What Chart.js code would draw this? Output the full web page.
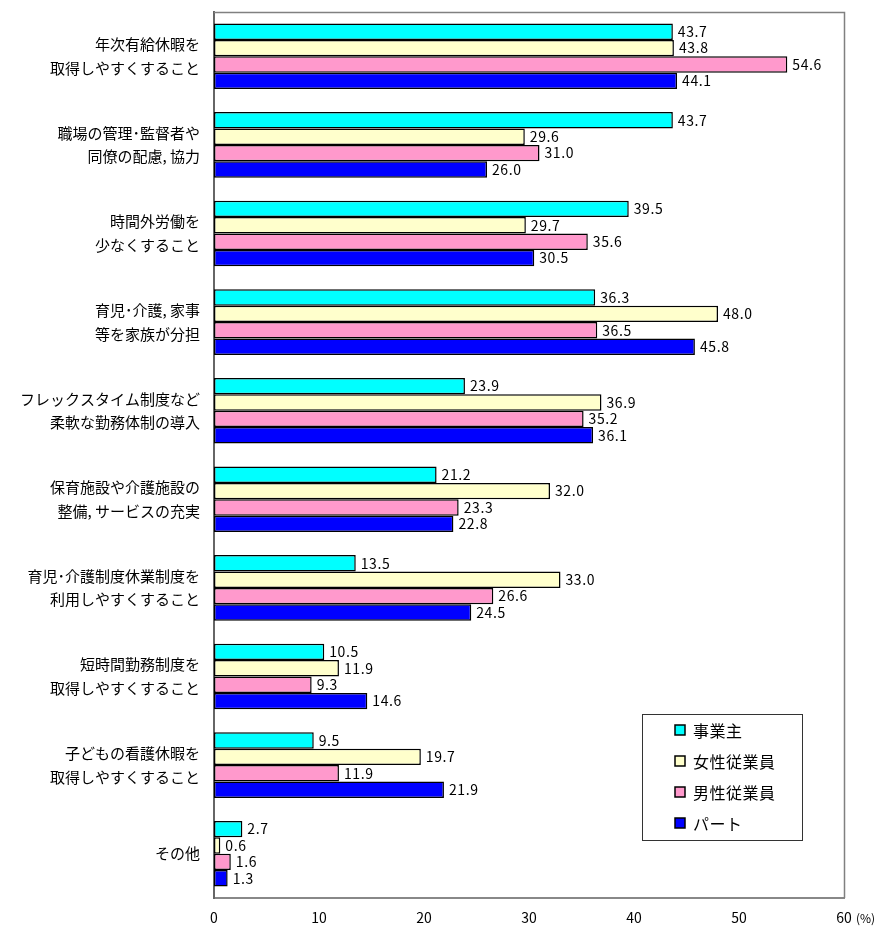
<!DOCTYPE html>
<html lang="ja">
<head>
<meta charset="utf-8">
<script src="https://cdn.jsdelivr.net/npm/chart.js@4/dist/chart.umd.min.js"></script>
<style>
  body { margin: 0; background: #fff; }
  #wrap { width: 877px; height: 934px; position: relative; }
</style>
</head>
<body>
<div id="wrap"><canvas id="chart"></canvas></div>
<script>
// Items (two-line labels) and answer ratios in %
const categories = [
    ['年次有給休暇を', '取得しやすくすること'],
    ['職場の管理･監督者や', '同僚の配慮, 協力'],
    ['時間外労働を', '少なくすること'],
    ['育児･介護, 家事', '等を家族が分担'],
    ['フレックスタイム制度など', '柔軟な勤務体制の導入'],
    ['保育施設や介護施設の', '整備, サービスの充実'],
    ['育児･介護制度休業制度を', '利用しやすくすること'],
    ['短時間勤務制度を', '取得しやすくすること'],
    ['子どもの看護休暇を', '取得しやすくすること'],
    'その他'
];
const seriesNames = ['事業主', '女性従業員', '男性従業員', 'パート'];
const employers = [43.7, 43.7, 39.5, 36.3, 23.9, 21.2, 13.5, 10.5, 9.5, 2.7];
const femaleStaff = [43.8, 29.6, 29.7, 48.0, 36.9, 32.0, 33.0, 11.9, 19.7, 0.6];
const maleStaff = [54.6, 31.0, 35.6, 36.5, 35.2, 23.3, 26.6, 9.3, 11.9, 1.6];
const partTimers = [44.1, 26.0, 30.5, 45.8, 36.1, 22.8, 24.5, 14.6, 21.9, 1.3];
const xTicks = [0, 10, 20, 30, 40, 50, 60];

const colors = ['#00ffff', '#ffffcc', '#ff99cc', '#0000ff'];
const FONT = "'Noto Sans CJK JP', 'Noto Sans', sans-serif";

// value text right of each bar
const valueLabels = {
    id: 'valueLabels',
    afterDatasetsDraw(chart) {
        const ctx = chart.ctx;
        ctx.save();
        ctx.font = '14px ' + FONT;
        ctx.letterSpacing = '0.6px';
        ctx.fillStyle = '#000';
        ctx.textAlign = 'left';
        ctx.textBaseline = 'middle';
        chart.data.datasets.forEach((ds, i) => {
            chart.getDatasetMeta(i).data.forEach((bar, j) => {
                ctx.fillText(ds.data[j].toFixed(1), bar.x + 5, bar.y);
            });
        });
        ctx.restore();
    }
};

// top/right frame, unit mark and boxed legend inside the plot
const frameAndLegend = {
    id: 'frameAndLegend',
    afterDraw(chart) {
        const ctx = chart.ctx;
        const a = chart.chartArea;
        ctx.save();
        ctx.strokeStyle = '#808080';
        ctx.lineWidth = 1.5;
        ctx.beginPath();
        ctx.moveTo(a.left, a.top + 0.5);
        ctx.lineTo(a.right + 0.5, a.top + 0.5);
        ctx.lineTo(a.right + 0.5, a.bottom);
        ctx.stroke();

        ctx.font = '12px ' + FONT;
        ctx.fillStyle = '#000';
        ctx.textBaseline = 'middle';
        ctx.fillText('(%)', a.right + 12, a.bottom + 20);

        // legend box
        const bx = 642, by = 714, bw = 160, bh = 126;
        ctx.fillStyle = '#fff';
        ctx.fillRect(bx, by, bw, bh);
        ctx.strokeStyle = '#333';
        ctx.lineWidth = 1;
        ctx.strokeRect(bx + 0.5, by + 0.5, bw, bh);
        ctx.font = '16px ' + FONT;
        ctx.letterSpacing = '0.5px';
        chart.data.datasets.forEach((ds, i) => {
            const y = by + 16 + i * 31;
            ctx.fillStyle = ds.backgroundColor;
            ctx.fillRect(675, y - 5, 10, 10);
            ctx.strokeStyle = '#000';
            ctx.lineWidth = 1.5;
            ctx.strokeRect(675, y - 5, 10, 10);
            ctx.fillStyle = '#000';
            ctx.fillText(ds.label, 693, y + 1);
        });
        ctx.restore();
    }
};

const datasets = [employers, femaleStaff, maleStaff, partTimers].map((vals, i) => ({
    label: seriesNames[i],
    data: vals,
    backgroundColor: colors[i],
    borderColor: '#000',
    borderWidth: 1.5,
    borderSkipped: false,
    categoryPercentage: 0.74,
    barPercentage: 1.0
}));

new Chart(document.getElementById('chart'), {
    type: 'bar',
    data: { labels: categories, datasets: datasets },
    options: {
        indexAxis: 'y',
        responsive: true,
        maintainAspectRatio: false,
        animation: false,
        layout: { padding: { top: 12, right: 33, bottom: 0, left: 0 } },
        plugins: {
            legend: { display: false },
            tooltip: { enabled: false }
        },
        scales: {
            x: {
                min: 0,
                max: 60,
                afterBuildTicks: scale => { scale.ticks = xTicks.map(v => ({ value: v })); },
                afterFit: scale => {
                    scale.height = 36;
                    scale.paddingLeft = 0;
                    scale.paddingRight = 0;
                },
                grid: { display: false, drawTicks: false },
                border: { display: true, color: '#888', width: 2 },
                ticks: { color: '#000', font: { family: FONT, size: 14 }, padding: 11 }
            },
            y: {
                afterFit: scale => {
                    scale.width = 214;
                    // two-line labels must not push the plot down
                    scale.paddingTop = 0;
                    scale.paddingBottom = 0;
                },
                grid: { display: false, drawTicks: false },
                border: { display: true, color: '#666', width: 2 },
                ticks: {
                    color: '#000',
                    autoSkip: false,
                    padding: 14,
                    crossAlign: 'near',
                    font: { family: FONT, size: 15, lineHeight: 1.58 }
                }
            }
        }
    },
    plugins: [valueLabels, frameAndLegend]
});
</script>
</body>
</html>
